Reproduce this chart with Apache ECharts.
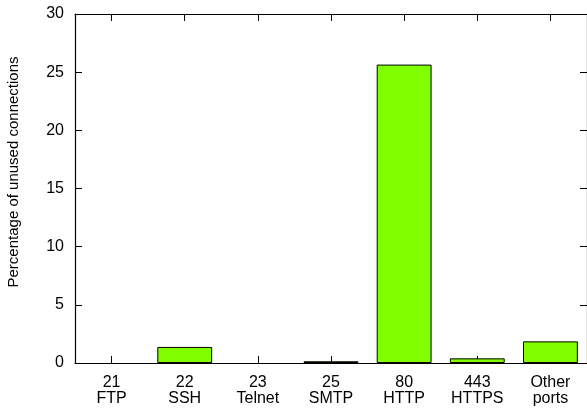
<!DOCTYPE html>
<html>
<head>
<meta charset="utf-8">
<script src="https://cdn.jsdelivr.net/npm/echarts@6/dist/echarts.min.js"></script>
<style>
  html, body { margin: 0; padding: 0; background: #fff; }
  #chart { width: 587px; height: 412px; }
</style>
</head>
<body>
<div id="chart"></div>
<script>
// Share of unused connections by destination port
const ports = ['21', '22', '23', '25', '80', '443', 'Other'];
const services = ['FTP', 'SSH', 'Telnet', 'SMTP', 'HTTP', 'HTTPS', 'ports'];
const unusedPct = [0, 1.38, 0, 0.15, 25.65, 0.4, 1.86];
const yTicks = [0, 5, 10, 15, 20, 25, 30];
const yTitle = 'Percentage of unused connections';

const categories = ports.map((p, i) => p + '\n' + services[i]);
const font = '"Liberation Sans", Arial, Helvetica, sans-serif';

const chart = echarts.init(document.getElementById('chart'), null, { renderer: 'canvas' });

const tickStyle = { show: true, inside: true, length: 7, lineStyle: { color: '#000', width: 1 } };

// empty bars get no outline so they don't thicken the baseline
const barData = unusedPct.map(v => ({
  value: v,
  itemStyle: v === 0 ? { borderWidth: 0 } : undefined
}));

chart.setOption({
  animation: false,
  backgroundColor: '#fff',
  grid: { left: 75, right: -1, top: 14, bottom: 49, containLabel: false },
  xAxis: [
    {
      type: 'category',
      data: categories,
      position: 'bottom',
      boundaryGap: true,
      axisLine: { show: true, onZero: false, lineStyle: { color: '#000', width: 1.2 } },
      axisTick: Object.assign({ alignWithLabel: true }, tickStyle),
      axisLabel: {
        color: '#000', fontFamily: font, fontSize: 16, lineHeight: 16,
        margin: 12, interval: 0
      },
      splitLine: { show: false }
    },
    {
      type: 'category',
      data: categories,
      position: 'top',
      boundaryGap: true,
      axisLine: { show: true, onZero: false, lineStyle: { color: '#000', width: 1.2 } },
      axisTick: Object.assign({ alignWithLabel: true }, tickStyle),
      axisLabel: { show: false },
      splitLine: { show: false }
    }
  ],
  yAxis: [
    {
      type: 'value',
      min: yTicks[0],
      max: yTicks[yTicks.length - 1],
      interval: 5,
      position: 'left',
      axisLine: { show: true, lineStyle: { color: '#000', width: 1.2 } },
      axisTick: tickStyle,
      axisLabel: { color: '#000', fontFamily: font, fontSize: 16, margin: 11 },
      splitLine: { show: false }
    },
    {
      type: 'value',
      min: yTicks[0],
      max: yTicks[yTicks.length - 1],
      interval: 5,
      position: 'right',
      axisLine: { show: true, lineStyle: { color: '#000', width: 1.2 } },
      axisTick: tickStyle,
      axisLabel: { show: false },
      splitLine: { show: false }
    }
  ],
  graphic: [
    {
      type: 'text',
      x: 14,
      y: 172,
      rotation: Math.PI / 2,
      style: {
        text: yTitle,
        fill: '#000',
        font: '15px ' + font,
        align: 'center',
        verticalAlign: 'middle'
      }
    }
  ],
  series: [
    {
      type: 'bar',
      xAxisIndex: 0,
      yAxisIndex: 0,
      data: barData,
      barWidth: '75%',
      itemStyle: { color: '#7fff00', borderColor: '#000', borderWidth: 1 }
    }
  ]
});
</script>
</body>
</html>
